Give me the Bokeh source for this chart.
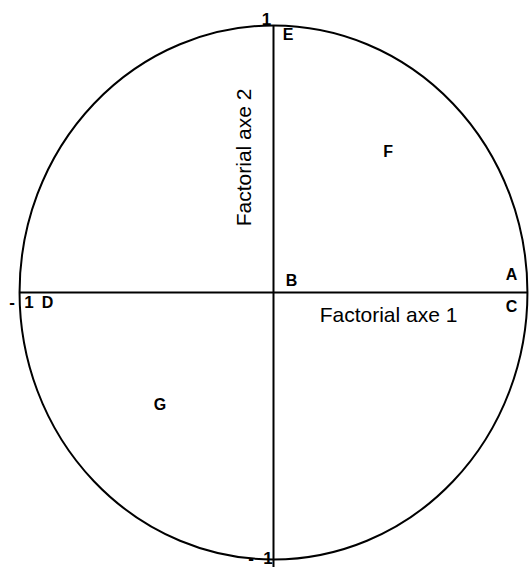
from math import pi

from bokeh.core.properties import value
from bokeh.embed import file_html
from bokeh.models import Range1d
from bokeh.plotting import figure
from bokeh.resources import INLINE

# Variable coordinates on the two factorial axes
names = ["A", "B", "C", "D", "E", "F", "G"]
axe1 = [0.937, 0.071, 0.937, -0.89, 0.057, 0.451, -0.447]
axe2 = [0.067, 0.045, -0.052, -0.037, 0.966, 0.528, -0.419]

# Tick labels at the ends of the axes
tick_text = ["1", "-\u00a0\u00a01", "-\u00a0\u00a01"]
tick_x = [0, 0, -1]
tick_y = [1, -1, 0]

axis_titles = ["Factorial axe 1", "Factorial axe 2"]

FONT = value("Liberation Sans")

p = figure(
    width=530, height=567,
    x_range=Range1d(-1.075, 1.012), y_range=Range1d(-1.030, 1.0936),
    x_axis_location=None, y_axis_location=None,
    output_backend="svg", toolbar_location=None,
    min_border=0, min_border_left=0, min_border_right=0,
    min_border_top=0, min_border_bottom=0,
)
p.grid.visible = False
p.outline_line_color = None
p.background_fill_color = "white"
p.border_fill_color = "white"

# Correlation circle
p.ellipse(x=[0], y=[0], width=[2], height=[2],
          fill_color=None, line_color="black", line_width=2)

# The two axes through the origin
p.segment(x0=[-1, 0], y0=[0, 1], x1=[1, 0], y1=[0, -1.05],
          line_color="black", line_width=2)

# Tick labels
p.text(x=tick_x, y=tick_y, text=tick_text,
       x_offset=[-7, -13, 2], y_offset=[-6, -1, 10],
       text_font=FONT, text_font_style="bold", text_font_size="17px",
       text_align="center", text_baseline="middle", text_color="black")

# Variable labels
p.text(x=axe1, y=axe2, text=names,
       text_font=FONT, text_font_style="bold", text_font_size="16px",
       text_align="center", text_baseline="middle", text_color="black")

# Axis titles
p.text(x=[0.453], y=[-0.082], text=[axis_titles[0]],
       text_font=FONT, text_font_size="21px",
       text_align="center", text_baseline="middle", text_color="black")
p.text(x=[-0.118], y=[0.506], text=[axis_titles[1]], angle=pi / 2,
       text_font=FONT, text_font_size="21px",
       text_align="center", text_baseline="middle", text_color="black")

open("out.html", "w").write(file_html(p, INLINE))
